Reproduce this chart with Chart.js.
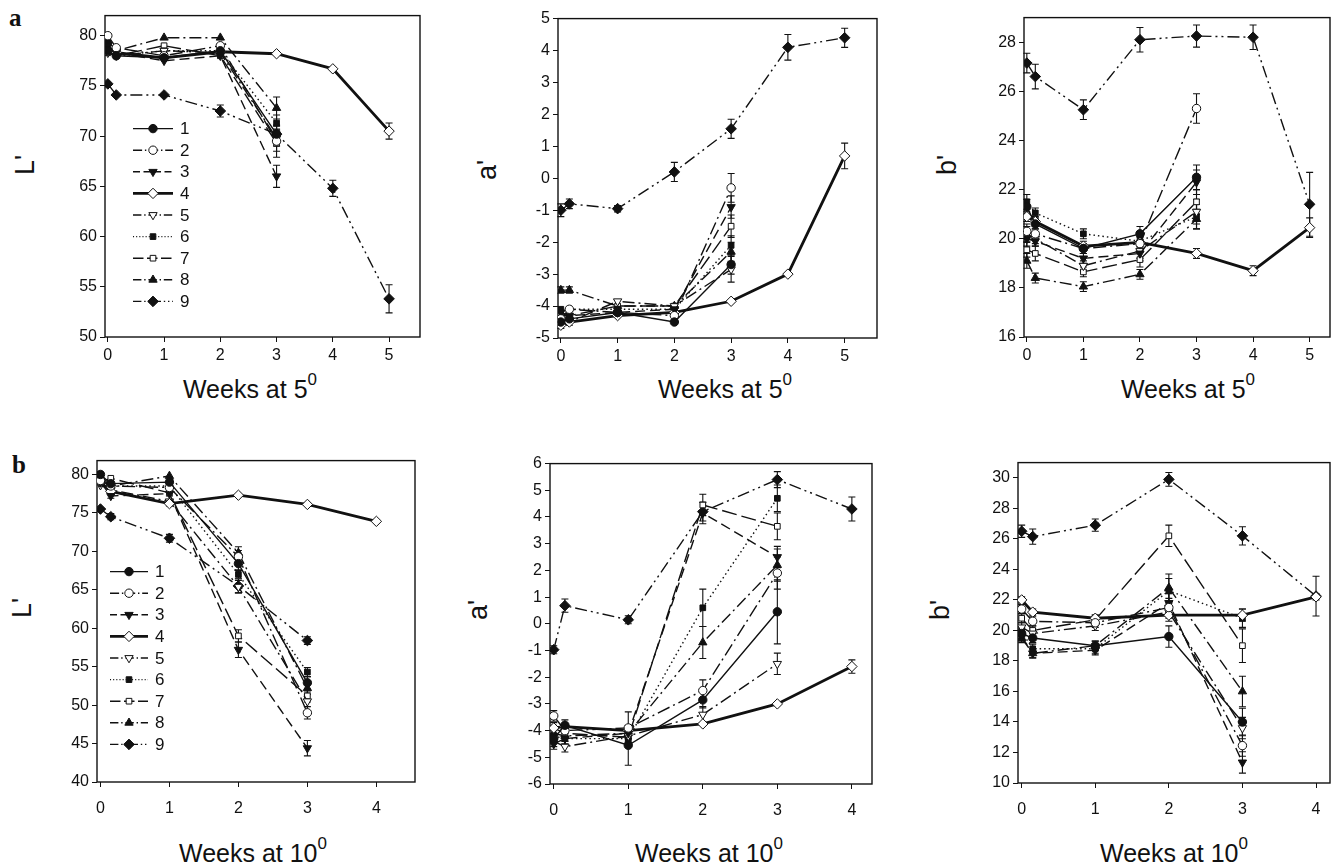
<!DOCTYPE html>
<html>
<head>
<meta charset="utf-8">
<script src="https://cdn.jsdelivr.net/npm/chart.js@4.4.1/dist/chart.umd.min.js"></script>
<style>
body{margin:0;background:#fff;width:1332px;height:867px;position:relative;overflow:hidden;font-family:"Liberation Sans",Arial,sans-serif;color:#111}
canvas{position:absolute}
.xt{position:absolute;font-size:25px;line-height:30px;white-space:nowrap;transform:translateX(-50%)}
.xt sup{font-size:17px;position:relative;top:-3px;vertical-align:top;line-height:17px}
.yt{position:absolute;font-size:27px;line-height:27px;white-space:nowrap;transform:translate(-50%,-50%) rotate(-90deg)}
.lt{position:absolute;font:bold 25px "Liberation Serif",serif;line-height:25px}
</style>
</head>
<body>
<div class="lt" style="left:9px;top:5px">a</div>
<div class="lt" style="left:12px;top:452px">b</div>

<div class="yt" style="left:25px;top:165px">L'</div>
<div class="yt" style="left:487px;top:170px">a'</div>
<div class="yt" style="left:947px;top:165px">b'</div>
<div class="yt" style="left:22px;top:608px">L'</div>
<div class="yt" style="left:478px;top:610px">a'</div>
<div class="yt" style="left:940px;top:610px">b'</div>

<div class="xt" style="left:250px;top:374px">Weeks at 5<sup>0</sup></div>
<div class="xt" style="left:725px;top:374px">Weeks at 5<sup>0</sup></div>
<div class="xt" style="left:1188px;top:374px">Weeks at 5<sup>0</sup></div>
<div class="xt" style="left:253px;top:838px">Weeks at 10<sup>0</sup></div>
<div class="xt" style="left:709px;top:838px">Weeks at 10<sup>0</sup></div>
<div class="xt" style="left:1174px;top:838px">Weeks at 10<sup>0</sup></div>

<script>
// sampling times (weeks)
const weeks5 = [0, 0.15, 1, 2, 3, 4, 5];
const weeks10 = [0, 0.15, 1, 2, 3, 4];
const seriesNames = ['1', '2', '3', '4', '5', '6', '7', '8', '9'];

const xTicks5 = [0, 1, 2, 3, 4, 5];
const xTicks10 = [0, 1, 2, 3, 4];
const yTicksL5 = [50, 55, 60, 65, 70, 75, 80];
const yTicksA5 = [-5, -4, -3, -2, -1, 0, 1, 2, 3, 4, 5];
const yTicksB5 = [16, 18, 20, 22, 24, 26, 28];
const yTicksL10 = [40, 45, 50, 55, 60, 65, 70, 75, 80];
const yTicksA10 = [-6, -5, -4, -3, -2, -1, 0, 1, 2, 3, 4, 5, 6];
const yTicksB10 = [10, 12, 14, 16, 18, 20, 22, 24, 26, 28, 30];

// L' at 5 deg
const L5 = [
  [78.5, 78, 77.8, 78.5, 70.2],
  [80, 78.8, 78, 79, 69.5],
  [79, 78.3, 77.5, 78, 66],
  [78.5, 78.3, 77.8, 78.4, 78.2, 76.7, 70.5],
  [78.3, 78, 78.5, 78.3, 69.8],
  [79.2, 78, 78.5, 78.5, 71.3],
  [78.3, 78, 79, 78, 69.3],
  [79.5, 78.5, 79.8, 79.8, 72.8],
  [75.2, 74.1, 74.1, 72.5, 70.2, 64.8, 53.8]
];
const L5err = [
  [0, 0, 0, 0, 0.8],
  [0, 0, 0, 0, 1.6],
  [0, 0, 0, 0, 1.1],
  [0, 0, 0, 0, 0, 0, 0.8],
  [0, 0, 0, 0, 0.8],
  [0, 0, 0, 0, 0.8],
  [0, 0, 0, 0, 0.8],
  [0, 0, 0, 0, 1.1],
  [0, 0, 0, 0.6, 0.5, 0.8, 1.4]
];

// a' at 5 deg
const A5 = [
  [-4.5, -4.4, -4.2, -4.5, -2.7],
  [-4.4, -4.1, -4.2, -4.3, -0.3],
  [-4.2, -4.3, -4.2, -4.1, -0.9],
  [-4.6, -4.5, -4.3, -4.2, -3.85, -3.0, 0.7],
  [-4.5, -4.5, -3.85, -4.0, -2.85],
  [-4.1, -4.1, -4.1, -4.1, -2.1],
  [-4.3, -4.3, -4.0, -4.0, -1.5],
  [-3.5, -3.5, -4.0, -4.0, -2.3],
  [-1.0, -0.8, -0.95, 0.2, 1.55, 4.1, 4.4]
];
const A5err = [
  [0, 0, 0, 0, 0.3],
  [0, 0, 0, 0, 0.45],
  [0, 0, 0, 0, 0.35],
  [0.1, 0.1, 0, 0, 0, 0, 0.4],
  [0, 0, 0, 0, 0.4],
  [0, 0, 0, 0, 0.3],
  [0, 0, 0, 0, 0.35],
  [0.1, 0.1, 0, 0, 0.3],
  [0.2, 0.15, 0.1, 0.3, 0.3, 0.4, 0.3]
];

// b' at 5 deg
const B5 = [
  [21.3, 20.6, 19.6, 20.2, 22.5],
  [20.3, 20.2, 19.6, 19.8, 25.3],
  [20.0, 19.9, 19.2, 19.4, 22.3],
  [20.9, 20.7, 19.7, 19.85, 19.4, 18.7, 20.45],
  [20.2, 20.0, 18.9, 19.5, 21.1],
  [21.5, 21.05, 20.2, 19.9, 20.9],
  [19.55, 19.4, 18.65, 19.15, 21.5],
  [19.1, 18.4, 18.05, 18.55, 20.8],
  [27.15, 26.6, 25.25, 28.1, 28.25, 28.2, 21.4]
];
const B5err = [
  [0.3, 0.2, 0.2, 0.3, 0.5],
  [0.3, 0.2, 0.2, 0.3, 0.6],
  [0.3, 0.2, 0.2, 0.3, 0.5],
  [0.2, 0.2, 0.2, 0.2, 0.2, 0.2, 0.4],
  [0.3, 0.2, 0.2, 0.3, 0.5],
  [0.3, 0.2, 0.2, 0.2, 0.5],
  [0.3, 0.3, 0.2, 0.3, 0.5],
  [0.3, 0.2, 0.2, 0.2, 0.4],
  [0.4, 0.5, 0.4, 0.5, 0.45, 0.5, 1.3]
];

// L' at 10 deg
const L10 = [
  [80, 78.8, 79, 68.4, 52.9],
  [79.2, 78.5, 78.3, 69.3, 49],
  [79, 77.2, 77.5, 57.2, 44.4],
  [79, 77.8, 76.2, 77.3, 76.1, 73.9],
  [78.6, 78, 76.5, 65.4, 50.5],
  [80, 78.5, 78.5, 67, 54.3],
  [79, 79.5, 77.6, 59, 51.2],
  [79.5, 78.5, 79.8, 69.8, 52.2],
  [75.5, 74.5, 71.7, 65.5, 58.4]
];
const L10err = [
  [0, 0, 0, 0.8, 0.8],
  [0, 0, 0, 0.8, 0.8],
  [0, 0.3, 0.3, 1.0, 1.0],
  [0, 0, 0.3, 0, 0, 0],
  [0, 0, 0, 0.8, 1.2],
  [0, 0, 0, 0.5, 0.6],
  [0, 0, 0, 0.8, 0.8],
  [0, 0, 0, 0.8, 0.8],
  [0, 0.4, 0.5, 0.9, 0.5]
];

// a' at 10 deg
const A10 = [
  [-4.3, -3.8, -4.55, -2.85, 0.45],
  [-3.45, -4.0, -3.9, -2.5, 1.9],
  [-4.5, -4.3, -4.1, 4.15, 2.5],
  [-3.9, -3.85, -4.0, -3.75, -3.0, -1.6],
  [-4.4, -4.6, -4.2, -3.4, -1.5],
  [-4.2, -4.3, -4.3, 0.6, 4.7],
  [-3.9, -4.1, -4.25, 4.45, 3.65],
  [-4.1, -4.2, -4.1, -0.7, 2.2],
  [-0.97, 0.68, 0.15, 4.2, 5.4, 4.3]
];
const A10err = [
  [0.2, 0.2, 0.75, 0.3, 1.2],
  [0.2, 0.2, 0.6, 0.4, 0.6],
  [0.2, 0.2, 0.2, 0.4, 0.4],
  [0, 0, 0, 0, 0, 0.25],
  [0.2, 0.2, 0.2, 0.3, 0.4],
  [0.2, 0.2, 0.2, 0.7, 0.5],
  [0.2, 0.2, 0.2, 0.4, 0.5],
  [0.2, 0.2, 0.2, 0.6, 0.6],
  [0.15, 0.25, 0.15, 0.35, 0.3, 0.45]
];

// b' at 10 deg
const B10 = [
  [19.8, 19.5, 19.0, 19.6, 14.0],
  [21.4, 20.6, 20.5, 21.5, 12.45],
  [19.6, 18.5, 18.7, 21.8, 11.35],
  [22.0, 21.2, 20.8, 21.0, 21.0, 22.2],
  [20.2, 19.8, 20.3, 21.2, 13.6],
  [19.9, 18.8, 18.8, 22.6, 20.8],
  [20.8, 20.0, 20.7, 26.2, 19.0],
  [19.5, 18.5, 19.0, 22.8, 16.0],
  [26.5, 26.15, 26.9, 29.9, 26.2, 22.25]
];
const B10err = [
  [0.3, 0.3, 0.3, 0.7, 0.9],
  [0.3, 0.3, 0.3, 0.6, 0.7],
  [0.3, 0.3, 0.3, 0.6, 0.7],
  [0.2, 0.2, 0.2, 0.2, 0.4, 0.2],
  [0.3, 0.3, 0.3, 0.6, 0.7],
  [0.3, 0.3, 0.3, 0.8, 0.6],
  [0.3, 0.3, 0.3, 0.7, 1.1],
  [0.3, 0.3, 0.3, 0.9, 1.0],
  [0.4, 0.5, 0.4, 0.45, 0.6, 1.3]
];

// series styles
const pointStyles = ['circle', 'circle', 'triangle', 'rectRot', 'triangle', 'rect', 'rect', 'triangle', 'rectRot'];
const pointRot = [0, 0, 180, 0, 180, 0, 0, 0, 0];
const filled = [true, false, true, false, false, true, false, true, true];
const dashes = [[], [13, 4, 2, 4], [10, 5], [], [12, 4, 2, 4], [1.5, 3], [15, 5], [12, 4, 2, 4], [12, 4, 2, 4, 2, 4]];
const widths = [1.4, 1.4, 1.4, 2.8, 1.4, 1.4, 1.4, 1.4, 1.4];
const radii = [4.2, 4.2, 4.8, 5.2, 4.8, 4, 4, 4.8, 5.3];

Chart.defaults.font.family = '"Liberation Sans", Arial, sans-serif';
Chart.defaults.font.size = 16;
Chart.defaults.color = '#111';

const boxPlugin = {
  id: 'box',
  beforeDatasetsDraw(c) {
    const a = c.chartArea, ctx = c.ctx;
    ctx.save();
    ctx.strokeStyle = '#111';
    ctx.lineWidth = 1.4;
    ctx.strokeRect(a.left, a.top, a.right - a.left, a.bottom - a.top);
    ctx.restore();
  }
};

const errPlugin = {
  id: 'errbars',
  beforeDatasetsDraw(c) {
    const ctx = c.ctx, ys = c.scales.y;
    ctx.save();
    ctx.strokeStyle = '#111';
    ctx.lineWidth = 1.1;
    c.data.datasets.forEach((ds, i) => {
      const meta = c.getDatasetMeta(i);
      (ds.errors || []).forEach((e, j) => {
        if (!e || !meta.data[j]) return;
        const x = meta.data[j].x, v = ds.data[j].y;
        const y1 = ys.getPixelForValue(v + e), y2 = ys.getPixelForValue(v - e);
        ctx.beginPath();
        ctx.moveTo(x, y1); ctx.lineTo(x, y2);
        ctx.moveTo(x - 3.5, y1); ctx.lineTo(x + 3.5, y1);
        ctx.moveTo(x - 3.5, y2); ctx.lineTo(x + 3.5, y2);
        ctx.stroke();
      });
    });
    ctx.restore();
  }
};

const legendPlugin = {
  id: 'lineLegend',
  afterDatasetsDraw(c, args, o) {
    if (!o.show) return;
    const a = c.chartArea, ctx = c.ctx;
    c.data.datasets.forEach((ds, i) => {
      const yy = a.top + o.y + i * o.gap, x0 = a.left + o.x;
      ctx.save();
      ctx.strokeStyle = '#111';
      ctx.lineWidth = ds.borderWidth;
      ctx.setLineDash(ds.borderDash.map(d => d * 0.7));
      ctx.beginPath();
      ctx.moveTo(x0, yy); ctx.lineTo(x0 + o.len, yy);
      ctx.stroke();
      ctx.setLineDash([]);
      ctx.fillStyle = ds.pointBackgroundColor;
      ctx.lineWidth = 1;
      Chart.helpers.drawPoint(ctx, {
        pointStyle: ds.pointStyle, rotation: ds.pointRotation,
        radius: ds.pointRadius, borderWidth: 1
      }, x0 + o.len / 2, yy);
      ctx.fillStyle = '#111';
      ctx.font = '17px "Liberation Sans", Arial, sans-serif';
      ctx.textBaseline = 'middle';
      ctx.fillText(ds.label, x0 + o.len + 7, yy + 1);
      ctx.restore();
    });
  }
};

const padL = 90, padT = 12, padR = 8, padB = 45;

function makePanel(box, weeks, values, errs, xMax, yMin, yMax, xTicks, yTicks, legend, xPad) {
  const cv = document.createElement('canvas');
  const w = box.r - box.l + padL + padR, h = box.b - box.t + padT + padB;
  cv.width = w; cv.height = h;
  cv.style.left = (box.l - padL) + 'px';
  cv.style.top = (box.t - padT) + 'px';
  cv.style.width = w + 'px'; cv.style.height = h + 'px';
  document.body.appendChild(cv);

  const datasets = values.map((vals, i) => ({
    label: seriesNames[i],
    data: vals.map((v, j) => ({ x: weeks[j], y: v })),
    errors: errs[i],
    borderColor: '#111',
    borderWidth: widths[i],
    borderDash: dashes[i],
    pointStyle: pointStyles[i],
    pointRotation: pointRot[i],
    pointRadius: radii[i],
    pointBorderWidth: 1,
    pointBorderColor: '#111',
    pointBackgroundColor: filled[i] ? '#111' : '#fff',
    tension: 0,
    fill: false
  }));

  new Chart(cv.getContext('2d'), {
    type: 'line',
    data: { datasets },
    options: {
      responsive: false,
      animation: false,
      devicePixelRatio: 1,
      layout: { padding: { top: padT, right: padR, left: 0, bottom: 0 } },
      plugins: { legend: { display: false }, tooltip: { enabled: false }, lineLegend: legend },
      scales: {
        x: {
          type: 'linear', min: -0.05, max: xMax,
          afterBuildTicks: s => { s.ticks = xTicks.map(v => ({ value: v })); },
          afterFit: s => { s.height = padB; },
          grid: { drawOnChartArea: false, drawTicks: true, tickLength: 5, color: '#111' },
          border: { display: false },
          ticks: { padding: xPad, color: '#111', font: { size: 16 } }
        },
        y: {
          type: 'linear', min: yMin, max: yMax,
          afterBuildTicks: s => { s.ticks = yTicks.map(v => ({ value: v })); },
          afterFit: s => { s.width = padL; },
          grid: { drawOnChartArea: false, drawTicks: true, tickLength: 5, color: '#111' },
          border: { display: false },
          ticks: { padding: 3, color: '#111', font: { size: 16 } }
        }
      }
    },
    plugins: [boxPlugin, errPlugin, legendPlugin]
  });
}

const noLegend = { show: false };
makePanel({ l: 105, t: 15, r: 420, b: 337 }, weeks5, L5, L5err, 5.55, 50, 82, xTicks5, yTicksL5,
  { show: true, x: 28, y: 113, gap: 21.6, len: 40 }, 4);
makePanel({ l: 558, t: 18, r: 877, b: 338 }, weeks5, A5, A5err, 5.57, -5, 5, xTicks5, yTicksA5, noLegend, 4);
makePanel({ l: 1024, t: 17, r: 1330, b: 337 }, weeks5, B5, B5err, 5.36, 16, 29, xTicks5, yTicksB5, noLegend, 4);
makePanel({ l: 97, t: 460, r: 415, b: 782 }, weeks10, L10, L10err, 4.56, 40, 81.8, xTicks10, yTicksL10,
  { show: true, x: 13, y: 111, gap: 21.6, len: 38 }, 12);
makePanel({ l: 550, t: 463, r: 872, b: 784 }, weeks10, A10, A10err, 4.27, -6, 6, xTicks10, yTicksA10, noLegend, 12);
makePanel({ l: 1018, t: 462, r: 1330, b: 783 }, weeks10, B10, B10err, 4.19, 10, 31, xTicks10, yTicksB10, noLegend, 12);
</script>
</body>
</html>
